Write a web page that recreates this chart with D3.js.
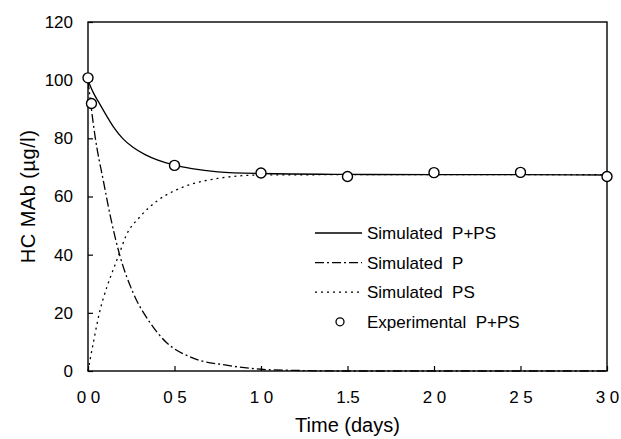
<!DOCTYPE html>
<html>
<head>
<meta charset="utf-8">
<script src="https://cdn.jsdelivr.net/npm/d3@7"></script>
<style>
  body { margin: 0; background: #fff; }
  svg { display: block; font-family: Arial, "Liberation Sans", sans-serif; }
  .legend text { white-space: pre; }
</style>
</head>
<body>
<div id="chart"></div>
<script>
// values
const xTicks = [0, 0.5, 1.0, 1.5, 2.0, 2.5, 3.0];
const xTickLabels = ["0 0", "0 5", "1 0", "1.5", "2 0", "2 5", "3 0"];
const yTicks = [0, 20, 40, 60, 80, 100, 120];

// Experimental P+PS (circles)
const expTime = [0.0, 0.02, 0.5, 1.0, 1.5, 2.0, 2.5, 3.0];
const expValue = [100.8, 92.0, 70.7, 68.1, 66.9, 68.2, 68.3, 66.9];

// Simulated P+PS (solid)
const simTotalTime = [0, 0.03, 0.06, 0.1, 0.15, 0.2, 0.26, 0.33, 0.4, 0.5, 0.6, 0.75, 1.0, 1.5, 2.0, 2.5, 3.0];
const simTotalValue = [100, 95.8, 92.6, 88.5, 83.7, 80.0, 76.9, 74.4, 72.6, 70.8, 69.6, 68.5, 67.9, 67.6, 67.5, 67.5, 67.4];

// Simulated P (dash-dot)
const simPTime = [0, 0.04, 0.09, 0.13, 0.185, 0.26, 0.36, 0.45, 0.6, 0.8, 1.0, 1.2, 1.5, 2.0, 3.0];
const simPValue = [100, 81, 65, 53, 39.5, 27, 16.5, 10, 4.6, 2.0, 0.6, 0.2, 0, 0, 0];

// Simulated PS (dotted)
const simPSTime = [0, 0.03, 0.07, 0.11, 0.15, 0.185, 0.22, 0.3, 0.4, 0.5, 0.6, 0.75, 1.0, 1.5, 2.0, 3.0];
const simPSValue = [0, 9.5, 21, 29, 35.5, 41, 46.5, 53, 58.5, 62, 64.3, 66.2, 67.4, 67.5, 67.5, 67.5];

const legendItems = [
    { label: "Simulated  P+PS", type: "solid" },
    { label: "Simulated  P", type: "dashdot" },
    { label: "Simulated  PS", type: "dot" },
    { label: "Experimental  P+PS", type: "circle" }
];

const config = {
    width: 621,
    height: 439,
    margin: { top: 22, right: 14, bottom: 68, left: 88 }
};
const innerW = config.width - config.margin.left - config.margin.right;
const innerH = config.height - config.margin.top - config.margin.bottom;

const dashes = { solid: null, dashdot: "9,3,2,3", dot: "2,4" };

const svg = d3.select("#chart")
    .append("svg")
    .attr("width", config.width)
    .attr("height", config.height);

const g = svg.append("g")
    .attr("transform", `translate(${config.margin.left},${config.margin.top})`);

const x = d3.scaleLinear().domain([0, 3]).range([0, innerW]);
const y = d3.scaleLinear().domain([0, 120]).range([innerH, 0]);

// axes with inward ticks
const xAxis = d3.axisBottom(x)
    .tickValues(xTicks)
    .tickFormat((d, i) => xTickLabels[i])
    .tickSizeInner(-5)
    .tickSizeOuter(0)
    .tickPadding(20);

const yAxis = d3.axisLeft(y)
    .tickValues(yTicks)
    .tickFormat(d3.format("d"))
    .tickSizeInner(-5)
    .tickSizeOuter(0)
    .tickPadding(15);

g.append("g")
    .attr("class", "axis axis-x")
    .attr("transform", `translate(0,${innerH})`)
    .call(xAxis)
    .call(a => a.select(".domain").remove())
    .selectAll("text")
    .style("font-size", "17px")
    .style("white-space", "pre")
    .attr("fill", "#000");

g.append("g")
    .attr("class", "axis axis-y")
    .call(yAxis)
    .call(a => a.select(".domain").remove())
    .selectAll("text")
    .style("font-size", "17px")
    .attr("fill", "#000");

g.selectAll(".tick line").attr("stroke", "#000").attr("stroke-width", 1.2);

// frame
g.append("rect")
    .attr("x", 0)
    .attr("y", 0)
    .attr("width", innerW)
    .attr("height", innerH)
    .attr("fill", "none")
    .attr("stroke", "#000")
    .attr("stroke-width", 1.4);

// curves
const line = d3.line()
    .x(d => x(d[0]))
    .y(d => y(d[1]))
    .curve(d3.curveMonotoneX);

const series = [
    { t: simPTime, v: simPValue, type: "dashdot" },
    { t: simPSTime, v: simPSValue, type: "dot" },
    { t: simTotalTime, v: simTotalValue, type: "solid" }
];

g.selectAll(".sim")
    .data(series)
    .join("path")
    .attr("class", "sim")
    .attr("d", d => line(d.t.map((t, i) => [t, d.v[i]])))
    .attr("fill", "none")
    .attr("stroke", "#000")
    .attr("stroke-width", 1.3)
    .attr("stroke-dasharray", d => dashes[d.type]);

// experimental points
g.selectAll(".exp")
    .data(expTime.map((t, i) => ({ t, v: expValue[i] })))
    .join("circle")
    .attr("class", "exp")
    .attr("cx", d => x(d.t))
    .attr("cy", d => y(d.v))
    .attr("r", 5)
    .attr("fill", "#fff")
    .attr("stroke", "#000")
    .attr("stroke-width", 1.4);

// legend
const legend = svg.append("g")
    .attr("class", "legend")
    .attr("transform", "translate(315,233)");

const rows = legend.selectAll("g")
    .data(legendItems)
    .join("g")
    .attr("transform", (d, i) => `translate(0,${i * 29.6})`);

rows.filter(d => d.type !== "circle")
    .append("line")
    .attr("x1", 0)
    .attr("x2", 47)
    .attr("y1", 0)
    .attr("y2", 0)
    .attr("stroke", "#000")
    .attr("stroke-width", 1.3)
    .attr("stroke-dasharray", d => dashes[d.type]);

rows.filter(d => d.type === "circle")
    .append("circle")
    .attr("cx", 25)
    .attr("cy", 0)
    .attr("r", 4)
    .attr("fill", "#fff")
    .attr("stroke", "#000")
    .attr("stroke-width", 1.3);

rows.append("text")
    .attr("x", 52)
    .attr("y", 0)
    .attr("dy", "0.35em")
    .style("font-size", "17px")
    .text(d => d.label);

// axis titles
svg.append("text")
    .attr("x", config.margin.left + innerW / 2)
    .attr("y", 432)
    .attr("text-anchor", "middle")
    .style("font-size", "20px")
    .text("Time (days)");

svg.append("text")
    .attr("transform", `translate(35,${config.margin.top + innerH / 2}) rotate(-90)`)
    .attr("text-anchor", "middle")
    .style("font-size", "20px")
    .style("letter-spacing", "0.5px")
    .text("HC MAb (µg/l)");
</script>
</body>
</html>
